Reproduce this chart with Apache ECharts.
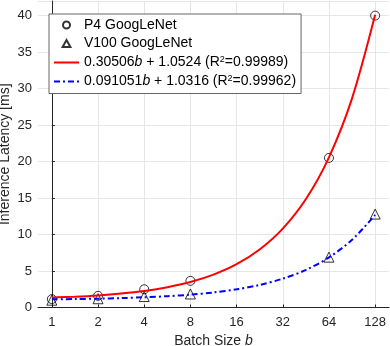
<!DOCTYPE html>
<html>
<head>
<meta charset="utf-8">
<script src="https://cdn.jsdelivr.net/npm/echarts@6/dist/echarts.min.js"></script>
<style>
html,body{margin:0;padding:0;background:#fff}
#chart{width:390px;height:346px}
</style>
</head>
<body>
<div id="chart"></div>
<script>
var batchSizes = [1, 2, 4, 8, 64, 128];
var p4Latency = [1.15, 1.6, 2.5, 3.65, 20.5, 40.0];
var v100Latency = [1.0, 1.2, 1.5, 1.85, 6.9, 12.8];
// 拟合曲线（从图上读取的点）
var fitBatch = [1, 1.41, 2, 2.83, 4, 5.66, 8, 11.3, 16, 22.6, 32, 45.3, 64, 90.5, 128];
var p4Fit = [1.36, 1.48, 1.66, 1.92, 2.27, 2.78, 3.49, 4.5, 5.93, 7.95, 10.81, 14.86, 20.58, 28.66, 40.1];
var v100Fit = [1.12, 1.16, 1.21, 1.29, 1.4, 1.55, 1.76, 2.06, 2.49, 3.09, 3.95, 5.15, 6.86, 9.27, 12.69];
var xTickLabels = ['1', '2', '4', '8', '16', '32', '64', '128'];
var legendTexts = {
	'P4 GoogLeNet': 'P4 GoogLeNet',
	'V100 GoogLeNet': 'V100 GoogLeNet',
	'P4 fit': '0.30506{i|b} + 1.0524 (R{s|2}=0.99989)',
	'V100 fit': '0.091051{i|b} + 1.0316 (R{s|2}=0.99962)'
};

function toPairs(xs, ys){
	var out = [];
	for(var i=0;i<xs.length;i++){
		out.push([Math.log2(xs[i]), ys[i]]);
	}
	return out;
}
var tickPos = xTickLabels.map(function(t){ return Math.log2(+t); });

var font = '"Liberation Sans", Arial, sans-serif';
var axisColor = '#262626';
var gridColor = '#e6e6e6';

var myChart = echarts.init(document.getElementById('chart'));
var option = {
	animation: false,
	grid: {left: 38, right: 1, top: 1, bottom: 38.5, containLabel: false, outerBoundsMode: 'none'},
	legend: {
		data: [
			{name: 'P4 GoogLeNet', icon: 'circle'},
			{name: 'V100 GoogLeNet', icon: 'path://M5,0L10,9L0,9Z'},
			{name: 'P4 fit', itemStyle: {opacity: 0}},
			{name: 'V100 fit', itemStyle: {opacity: 0}}
		],
		orient: 'vertical',
		left: 49,
		top: 14,
		padding: [4, 5, 5, 4],
		itemGap: 4.5,
		itemWidth: 25,
		itemHeight: 7,
		symbolKeepAspect: true,
		backgroundColor: '#fff',
		borderColor: '#666',
		borderWidth: 1,
		borderRadius: 0,
		formatter: function(name){ return legendTexts[name]; },
		textStyle: {
			fontFamily: font,
			fontSize: 14,
			color: '#000',
			rich: {
				i: {fontFamily: font, fontSize: 14, fontStyle: 'italic', color: '#000'},
				s: {fontFamily: font, fontSize: 9, color: '#000', verticalAlign: 'top', padding: [0, 0, 6, 0]}
			}
		}
	},
	xAxis: {
		type: 'value',
		min: -0.3,
		max: 7.3,
		name: 'Batch Size {i|b}',
		nameLocation: 'middle',
		nameGap: 27,
		nameMoveOverlap: false,
		nameTextStyle: {
			fontFamily: font, fontSize: 14, color: axisColor,
			rich: {i: {fontFamily: font, fontSize: 14, fontStyle: 'italic', color: axisColor}}
		},
		axisLine: {show: true, lineStyle: {color: axisColor, width: 1}},
		axisTick: {show: true, inside: true, length: 3, customValues: tickPos, lineStyle: {color: axisColor}},
		axisLabel: {
			customValues: tickPos,
			margin: 8,
			fontFamily: font, fontSize: 13, color: axisColor,
			formatter: function(v){ return String(Math.round(Math.pow(2, v))); }
		},
		splitLine: {show: true, lineStyle: {color: gridColor, width: 1}}
	},
	yAxis: {
		type: 'value',
		min: 0,
		max: 42,
		interval: 5,
		name: 'Inference Latency [ms]',
		nameLocation: 'middle',
		nameGap: 26,
		nameMoveOverlap: false,
		nameTextStyle: {fontFamily: font, fontSize: 14, color: axisColor},
		axisLine: {show: true, lineStyle: {color: axisColor, width: 1}},
		axisTick: {show: true, inside: true, length: 3, lineStyle: {color: axisColor}},
		axisLabel: {
			margin: 6, showMaxLabel: false,
			fontFamily: font, fontSize: 13, color: axisColor
		},
		splitLine: {show: true, lineStyle: {color: gridColor, width: 1}}
	},
	series: [{
		name: 'P4 GoogLeNet',
		type: 'scatter',
		symbol: 'circle',
		symbolSize: 9,
		itemStyle: {color: 'rgba(0,0,0,0)', borderColor: '#000', borderWidth: 1},
		data: toPairs(batchSizes, p4Latency)
	}, {
		name: 'V100 GoogLeNet',
		type: 'scatter',
		symbol: 'triangle',
		symbolSize: 10,
		itemStyle: {color: 'rgba(0,0,0,0)', borderColor: '#000', borderWidth: 1},
		data: toPairs(batchSizes, v100Latency)
	}, {
		name: 'P4 fit',
		type: 'line',
		smooth: 0.3,
		showSymbol: false,
		symbol: 'none',
		itemStyle: {color: '#ff0000'},
		lineStyle: {color: '#ff0000', width: 2},
		data: toPairs(fitBatch, p4Fit)
	}, {
		name: 'V100 fit',
		type: 'line',
		smooth: 0.3,
		showSymbol: false,
		symbol: 'none',
		itemStyle: {color: '#0000ff'},
		lineStyle: {color: '#0000ff', width: 2, type: [6, 3, 2, 3]},
		data: toPairs(fitBatch, v100Fit)
	}]
};
myChart.setOption(option);
</script>
</body>
</html>
